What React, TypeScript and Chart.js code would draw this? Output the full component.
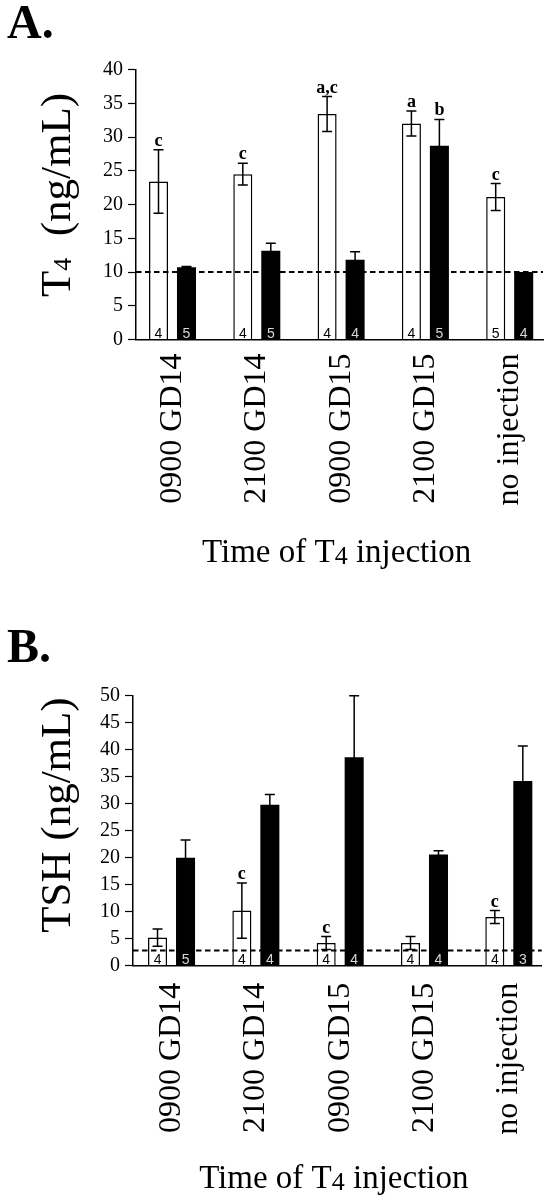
import React, { useEffect, useRef } from "react";
import { Chart, registerables } from "chart.js";

Chart.register(...registerables);

// ---------- data ----------
const categories = ["0900 GD14", "2100 GD14", "0900 GD15", "2100 GD15", "no injection"];

// Panel A: T4 (ng/mL)
const t4Open = [23.4, 24.5, 33.4, 32.0, 21.1];
const t4OpenErr = [4.7, 1.6, 2.6, 1.85, 2.0];
const t4Filled = [10.7, 13.15, 11.8, 28.7, 10.0];
const t4FilledErr = [0.1, 1.1, 1.2, 3.9, 0];
const t4OpenN = ["4", "4", "4", "4", "5"];
const t4FilledN = ["5", "5", "4", "5", "4"];
const t4OpenLetters = ["c", "c", "a,c", "a", "c"];
const t4FilledLetters = ["", "", "", "b", ""];
const t4Limit = 10;
const t4Ticks = { max: 40, step: 5 };

// Panel B: TSH (ng/mL)
const tshOpen = [5.2, 10.2, 4.2, 4.2, 9.0];
const tshOpenErr = [1.6, 5.1, 1.2, 1.2, 1.2];
const tshFilled = [20.0, 29.8, 38.6, 20.6, 34.2];
const tshFilledErr = [3.3, 1.9, 11.4, 0.7, 6.5];
const tshOpenN = ["4", "4", "4", "4", "4"];
const tshFilledN = ["5", "4", "4", "4", "3"];
const tshOpenLetters = ["", "c", "c", "", "c"];
const tshFilledLetters = ["", "", "", "", ""];
const tshLimit = 2.8;
const tshTicks = { max: 50, step: 5 };

// ---------- fonts ----------
const SERIF = '"Liberation Serif", "Times New Roman", Times, serif';
const SANS = '"Liberation Sans", Arial, Helvetica, sans-serif';

type Run = { text: string; size: number; dy?: number; bold?: boolean };

function setFont(ctx: CanvasRenderingContext2D, r: Run) {
  ctx.font = `${r.bold ? "bold " : ""}${r.size}px ${SERIF}`;
}
function runsWidth(ctx: CanvasRenderingContext2D, runs: Run[]) {
  let w = 0;
  for (const r of runs) {
    setFont(ctx, r);
    w += ctx.measureText(r.text).width;
  }
  return w;
}
function drawRuns(ctx: CanvasRenderingContext2D, runs: Run[], x: number, y: number) {
  let cx = x;
  for (const r of runs) {
    setFont(ctx, r);
    ctx.fillText(r.text, cx, y + (r.dy || 0));
    cx += ctx.measureText(r.text).width;
  }
}

// ---------- panel configs (built from the arrays) ----------
const PANELS = [
  {
    key: "A",
    height: 610,
    letter: "A.",
    letterBaseline: 38,
    axisLeft: 136,
    padRight: 5,
    padTop: 69.5,
    xAxisHeight: 270.5,
    xMin: -0.433,
    xMax: 4.395,
    yMax: t4Ticks.max,
    yStep: t4Ticks.step,
    labelPadding: 14,
    yTitle: [
      { text: "T", size: 43 },
      { text: "4", size: 26, dy: 1 },
      { text: "  (ng/mL)", size: 43 },
    ] as Run[],
    yTitleCenter: 195,
    xTitleBaseline: 561.7,
    xTitleCenter: 336.7,
    open: t4Open,
    openErr: t4OpenErr,
    filled: t4Filled,
    filledErr: t4FilledErr,
    openN: t4OpenN,
    filledN: t4FilledN,
    openLetters: t4OpenLetters,
    filledLetters: t4FilledLetters,
    limit: t4Limit,
  },
  {
    key: "B",
    height: 590,
    letter: "B.",
    letterBaseline: 51.7,
    axisLeft: 133,
    padRight: 6.3,
    padTop: 85.7,
    xAxisHeight: 234.3,
    xMin: -0.457,
    xMax: 4.39,
    yMax: tshTicks.max,
    yStep: tshTicks.step,
    labelPadding: 17,
    yTitle: [{ text: "TSH (ng/mL)", size: 43 }] as Run[],
    yTitleCenter: 205,
    xTitleBaseline: 578.3,
    xTitleCenter: 333.8,
    open: tshOpen,
    openErr: tshOpenErr,
    filled: tshFilled,
    filledErr: tshFilledErr,
    openN: tshOpenN,
    filledN: tshFilledN,
    openLetters: tshOpenLetters,
    filledLetters: tshFilledLetters,
    limit: tshLimit,
  },
];

type PanelCfg = (typeof PANELS)[number];

function makeOverlay(cfg: PanelCfg) {
  return {
    id: "overlay" + cfg.key,
    afterDatasetsDraw(chart: any) {
      const ctx: CanvasRenderingContext2D = chart.ctx;
      const ys = chart.scales.y;
      const area = chart.chartArea;
      const errSets = [cfg.openErr, cfg.filledErr];
      const valSets = [cfg.open, cfg.filled];
      const nSets = [cfg.openN, cfg.filledN];
      const letterSets = [cfg.openLetters, cfg.filledLetters];

      ctx.save();
      // error bars
      ctx.strokeStyle = "#000";
      ctx.lineWidth = 1.5;
      for (let d = 0; d < 2; d++) {
        const meta = chart.getDatasetMeta(d);
        meta.data.forEach((bar: any, i: number) => {
          const e = errSets[d][i];
          if (!e) return;
          const v = valSets[d][i];
          const cx = bar.x;
          const yt = ys.getPixelForValue(v + e);
          const yb = ys.getPixelForValue(v - e);
          const cap = 5;
          ctx.beginPath();
          ctx.moveTo(cx, yb);
          ctx.lineTo(cx, yt);
          ctx.moveTo(cx - cap, yt);
          ctx.lineTo(cx + cap, yt);
          ctx.moveTo(cx - cap, yb);
          ctx.lineTo(cx + cap, yb);
          ctx.stroke();
        });
      }

      // dashed limit line
      const yl = ys.getPixelForValue(cfg.limit);
      ctx.beginPath();
      ctx.setLineDash([5.5, 3.5]);
      ctx.lineWidth = 2;
      ctx.moveTo(area.left, yl);
      ctx.lineTo(area.right, yl);
      ctx.stroke();
      ctx.setLineDash([]);

      // n labels and letters
      for (let d = 0; d < 2; d++) {
        const meta = chart.getDatasetMeta(d);
        meta.data.forEach((bar: any, i: number) => {
          const cx = bar.x;
          ctx.font = `14px ${SANS}`;
          ctx.textAlign = "center";
          ctx.textBaseline = "alphabetic";
          ctx.fillStyle = d === 0 ? "#000" : "#d8d8d8";
          ctx.fillText(nSets[d][i], cx, area.bottom - 1.5);

          const letter = letterSets[d][i];
          if (letter) {
            const v = valSets[d][i];
            const e = errSets[d][i] || 0;
            const yt = ys.getPixelForValue(v + e);
            ctx.font = `bold 18px ${SERIF}`;
            ctx.fillStyle = "#000";
            ctx.fillText(letter, cx, yt - 4);
          }
        });
      }
      ctx.restore();
    },
    afterDraw(chart: any) {
      const ctx: CanvasRenderingContext2D = chart.ctx;
      ctx.save();
      ctx.fillStyle = "#000";
      ctx.textAlign = "left";
      ctx.textBaseline = "alphabetic";

      // panel letter
      ctx.font = `bold 48px ${SERIF}`;
      ctx.fillText(cfg.letter, 7, cfg.letterBaseline);

      // y title (rotated)
      const w = runsWidth(ctx, cfg.yTitle);
      ctx.save();
      ctx.translate(70, cfg.yTitleCenter);
      ctx.rotate(-Math.PI / 2);
      drawRuns(ctx, cfg.yTitle, -w / 2, 0);
      ctx.restore();

      // x title
      const xRuns: Run[] = [
        { text: "Time of T", size: 33 },
        { text: "4", size: 26, dy: 2 },
        { text: " injection", size: 33 },
      ];
      const xw = runsWidth(ctx, xRuns);
      drawRuns(ctx, xRuns, cfg.xTitleCenter - xw / 2, cfg.xTitleBaseline);
      ctx.restore();
    },
  };
}

function Panel({ cfg }: { cfg: PanelCfg }) {
  const ref = useRef<HTMLCanvasElement>(null);
  useEffect(() => {
    const canvas = ref.current;
    if (!canvas) return;
    const chart = new Chart(canvas, {
      type: "bar",
      data: {
        datasets: [
          {
            data: cfg.open.map((v, i) => ({ x: i, y: v })),
            backgroundColor: "#ffffff",
            borderColor: "#000000",
            borderWidth: 1.5,
            categoryPercentage: 0.664,
            barPercentage: 0.68,
          },
          {
            data: cfg.filled.map((v, i) => ({ x: i, y: v })),
            backgroundColor: "#000000",
            borderWidth: 0,
            categoryPercentage: 0.664,
            barPercentage: 0.68,
          },
        ] as any,
      },
      options: {
        responsive: false,
        animation: false,
        events: [],
        layout: {
          autoPadding: false,
          padding: { left: 0, right: cfg.padRight, top: cfg.padTop, bottom: 0 },
        },
        plugins: { legend: { display: false }, tooltip: { enabled: false } },
        scales: {
          x: {
            type: "linear",
            min: cfg.xMin,
            max: cfg.xMax,
            offset: false,
            afterBuildTicks: (s: any) => {
              s.ticks = categories.map((_, i) => ({ value: i }));
            },
            ticks: {
              autoSkip: false,
              minRotation: 90,
              maxRotation: 90,
              padding: cfg.labelPadding,
              color: "#000",
              font: { size: 32, family: SERIF },
              callback: (v: any) => categories[Math.round(Number(v))] ?? "",
            },
            grid: { display: false, drawTicks: false },
            border: { display: true, color: "#000", width: 1.5 },
            afterFit: (s: any) => {
              s.height = cfg.xAxisHeight;
              s.paddingLeft = 0;
              s.paddingRight = 0;
            },
          } as any,
          y: {
            min: 0,
            max: cfg.yMax,
            ticks: {
              stepSize: cfg.yStep,
              color: "#000",
              padding: 5,
              font: { size: 20, family: SERIF },
            },
            grid: {
              display: true,
              drawOnChartArea: false,
              drawTicks: true,
              tickLength: 8,
              tickColor: "#000",
              tickWidth: 1.2,
            },
            border: { display: true, color: "#000", width: 1.5 },
            afterFit: (s: any) => {
              s.width = cfg.axisLeft;
              s.paddingTop = 0;
              s.paddingBottom = 0;
            },
          } as any,
        },
      },
      plugins: [makeOverlay(cfg)],
    });
    return () => chart.destroy();
  }, [cfg]);
  return (
    <canvas
      ref={ref}
      width={548}
      height={cfg.height}
      style={{ display: "block", width: 548, height: cfg.height }}
    />
  );
}

export default function App() {
  return (
    <div
      style={{
        position: "absolute",
        left: 0,
        top: 0,
        width: 548,
        height: 1200,
        background: "#ffffff",
      }}
    >
      {PANELS.map((p) => (
        <Panel key={p.key} cfg={p} />
      ))}
    </div>
  );
}
